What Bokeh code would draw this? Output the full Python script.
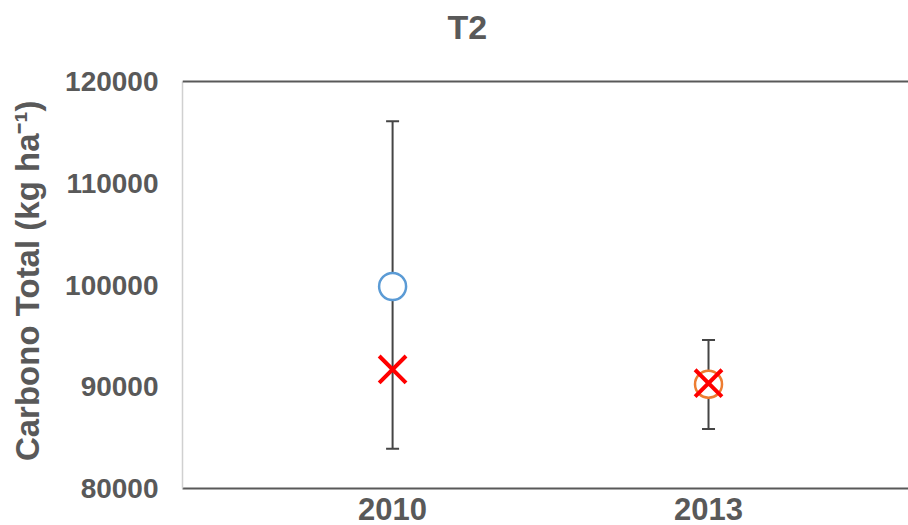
from bokeh.plotting import figure
from bokeh.models import (ColumnDataSource, Range1d, FixedTicker, Span,
                          Whisker, TeeHead, BasicTickFormatter, Label)
from bokeh.embed import file_html
from bokeh.resources import INLINE

# Total carbon per survey year (kg ha^-1)
years = ["2010", "2013"]
mean_carbon = [99850, 90250]
lower_carbon = [83900, 85850]
upper_carbon = [116100, 94600]
estimated_carbon = [91700, 90350]
year_colors = ["#5b9bd5", "#ed7d31"]
y_ticks = [80000, 90000, 100000, 110000, 120000]

TEXT = "#595959"
FONT = "Liberation Sans"

idx = list(range(len(years)))
src = ColumnDataSource(dict(
    x=idx, mean=mean_carbon, lower=lower_carbon, upper=upper_carbon,
    est=estimated_carbon, color=year_colors,
))

# frame spans the full height above the x axis; the value axis occupies
# the lower 407 px of it and the title sits in the 81 px headroom
y_lo, y_hi = y_ticks[0], y_ticks[-1]
headroom = (y_hi - y_lo) * 81 / 407

p = figure(width=908, height=525, output_backend="svg", toolbar_location=None,
           x_range=Range1d(-0.665, 1.633),
           y_range=Range1d(y_lo, y_hi + headroom),
           min_border_left=182, min_border_right=0, min_border_top=0,
           min_border_bottom=37)

p.add_layout(Label(text="T2", x=265, y=462, x_units="screen", y_units="screen",
                   text_baseline="alphabetic", text_font=FONT,
                   text_font_size="34px", text_font_style="bold",
                   text_color=TEXT))

p.outline_line_color = None
p.xgrid.visible = False
p.ygrid.visible = False
p.background_fill_color = "white"
p.border_fill_color = "white"

# y axis; the trailing wide spaces keep the rotated label centred on the
# value area rather than on the full frame
ya = p.yaxis[0]
ya.ticker = FixedTicker(ticks=y_ticks)
ya.bounds = (y_lo, y_hi)
ya.formatter = BasicTickFormatter(use_scientific=False)
ya.axis_line_color = "#d0d0d0"
ya.axis_line_width = 1.5
ya.major_tick_line_color = None
ya.minor_tick_line_color = None
ya.major_tick_out = 0
ya.major_tick_in = 0
ya.major_label_standoff = 24
ya.major_label_text_font = FONT
ya.major_label_text_font_size = "28px"
ya.major_label_text_font_style = "bold"
ya.major_label_text_color = TEXT
ya.axis_label = "Carbono Total (kg ha\u207b\u00b9)\u2003\u2003\u2009"
ya.axis_label_text_font = FONT
ya.axis_label_text_font_size = "33px"
ya.axis_label_text_font_style = "bold"
ya.axis_label_text_color = TEXT
ya.axis_label_standoff = 16

# x axis
xa = p.xaxis[0]
xa.ticker = FixedTicker(ticks=idx)
xa.major_label_overrides = {i: y for i, y in zip(idx, years)}
xa.axis_line_color = TEXT
xa.axis_line_width = 2
xa.major_tick_line_color = None
xa.minor_tick_line_color = None
xa.major_tick_out = 0
xa.major_tick_in = 0
xa.major_label_standoff = 9
xa.major_label_text_font = FONT
xa.major_label_text_font_size = "31px"
xa.major_label_text_font_style = "bold"
xa.major_label_text_color = TEXT

# top border line of the value area
p.add_layout(Span(location=y_hi, dimension="width", line_color=TEXT,
                  line_width=2))

# error bars
wh = Whisker(base="x", lower="lower", upper="upper", source=src,
             line_color="#454545", line_width=2,
             upper_head=TeeHead(size=13, line_color="#454545", line_width=2),
             lower_head=TeeHead(size=13, line_color="#454545", line_width=2))
p.add_layout(wh)

p.scatter(x="x", y="mean", source=src, marker="circle", size=27,
          fill_color="white", line_color="color", line_width=2.5)
p.scatter(x="x", y="est", source=src, marker="x", size=38,
          line_color="#ff0000", line_width=4)

open("out.html", "w").write(file_html(p, INLINE))
